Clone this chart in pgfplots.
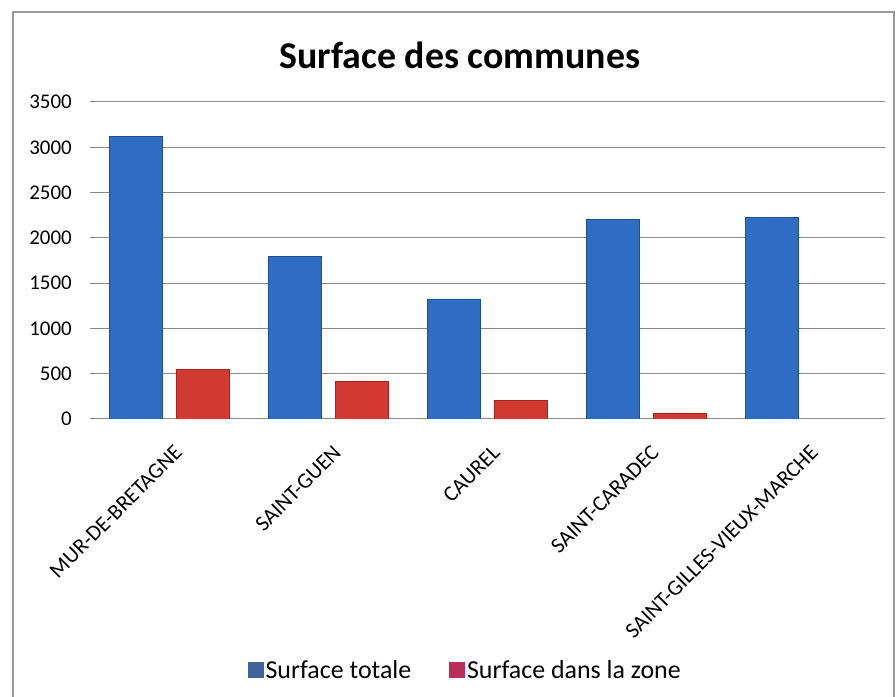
\documentclass[border=0pt]{standalone}
\usepackage{pgfplots}
\pgfplotsset{compat=1.18}
\usepackage{fontspec}
\setmainfont{Carlito}
\definecolor{bluedark}{HTML}{1F4F96}
\definecolor{bluefill}{HTML}{2F6CC4}
\definecolor{reddark}{HTML}{A82620}
\definecolor{redfill}{HTML}{D23A31}
\definecolor{legblue}{HTML}{3F649C}
\definecolor{legred}{HTML}{B8305A}
\definecolor{gridgray}{HTML}{8A8A8A}
\begin{document}
\begin{tikzpicture}
\path[use as bounding box] (0,0) rectangle (896bp,697bp);
\draw[color=gray!80, line width=1.2bp] (13bp,-1bp) -- (13bp,685bp) -- (894bp,685bp) -- (894bp,-1bp);
\node[font=\fontsize{38}{41}\selectfont\bfseries] at (460bp,642bp) {Surface des communes};
\begin{axis}[
  at={(90bp,278bp)}, anchor=south west,
  scale only axis, width=795bp, height=317bp,
  ybar, bar width=53bp,
  xmin=-0.5, xmax=4.5, ymin=0, ymax=3500,
  ytick={0,500,...,3500},
  xtick={0,1,2,3,4},
  xticklabels={MUR-DE-BRETAGNE,SAINT-GUEN,CAUREL,SAINT-CARADEC,SAINT-GILLES-VIEUX-MARCHE},
  xticklabel style={rotate=45, anchor=north east, inner sep=0pt, xshift=-15bp, yshift=-20bp, font=\fontsize{22}{25}\selectfont},
  yticklabel style={anchor=east, inner sep=0pt, xshift=-18bp, font=\fontsize{21}{24}\selectfont},
  /pgf/number format/assume math mode=true,
  /pgf/number format/1000 sep={},
  major tick length=0pt,
  axis line style={draw=none},
  ymajorgrids, grid style={gridgray, line width=1bp},
  legend style={at={(0.472,-0.792)}, anchor=center, draw=none, fill=none,
    legend columns=2, font=\fontsize{26}{29}\selectfont,
    /tikz/every even column/.append style={column sep=36bp},
    legend cell align=left},
]
\addplot[bar shift=-33.5bp, draw=bluedark, line width=0.8bp, fill=bluefill,
  legend image code/.code={\fill[legblue] (0bp,-7bp) rectangle (15bp,8bp);}]
  coordinates {(0,3115) (1,1790) (2,1325) (3,2205) (4,2230)};
\addlegendentry{Surface totale}
\addplot[bar shift=33.5bp, draw=reddark, line width=0.8bp, fill=redfill,
  legend image code/.code={\fill[legred] (0bp,-7bp) rectangle (15bp,8bp);}]
  coordinates {(0,550) (1,415) (2,200) (3,65)};
\addlegendentry{Surface dans la zone}
\end{axis}
\end{tikzpicture}
\end{document}
